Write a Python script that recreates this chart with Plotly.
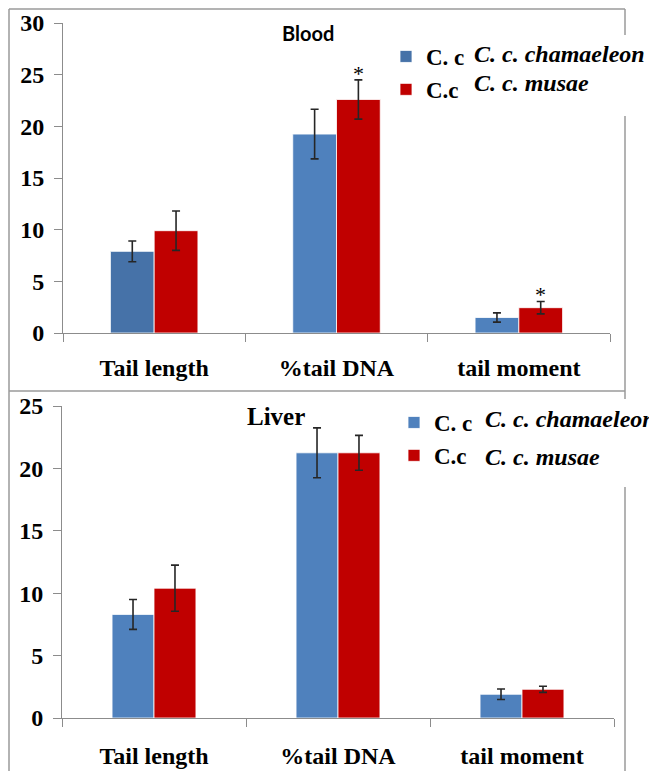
import plotly.graph_objects as go

categories = ["Tail length", "%tail DNA", "tail moment"]

blood_cham = [7.9, 19.25, 1.5]
blood_cham_err = [1.0, 2.4, 0.45]
blood_musae = [9.9, 22.6, 2.45]
blood_musae_err = [1.9, 1.9, 0.6]
blood_sig = [False, True, True]

liver_cham = [8.3, 21.25, 1.9]
liver_cham_err = [1.2, 2.0, 0.42]
liver_musae = [10.4, 21.25, 2.3]
liver_musae_err = [1.85, 1.4, 0.25]

legend_short = ["C. c", "C.c"]
legend_names = ["C. c. chamaeleon", "C. c. musae"]

BLUE = "#4F81BD"
BLUE_DARK = "#4672A8"
RED = "#C00000"
PAGE_OFFSET = 8          # default body margin of the html page
W = 657 - PAGE_OFFSET
H = 771 - PAGE_OFFSET

def px(x):
    return (x - PAGE_OFFSET) / W

def py(y):
    return 1 - (y - PAGE_OFFSET) / H

SERIF = "Liberation Serif"
fig = go.Figure()

def add_pair(cham, cham_err, musae, musae_err, xa, ya, width, legend, blue_colors):
    fig.add_trace(go.Bar(
        x=categories, y=cham, name=legend_short[0], xaxis=xa, yaxis=ya,
        width=width, offset=-width, legend=legend,
        marker=dict(color=blue_colors, line=dict(color="white", width=0.8)),
        error_y=dict(type="data", array=cham_err, color="#262626", thickness=1.6, width=4),
    ))
    fig.add_trace(go.Bar(
        x=categories, y=musae, name=legend_short[1], xaxis=xa, yaxis=ya,
        width=width, offset=0, legend=legend,
        marker=dict(color=RED, line=dict(color="white", width=0.8)),
        error_y=dict(type="data", array=musae_err, color="#262626", thickness=1.6, width=4),
    ))

add_pair(blood_cham, blood_cham_err, blood_musae, blood_musae_err, "x", "y", 0.24, "legend",
         [BLUE_DARK, BLUE, BLUE])
add_pair(liver_cham, liver_cham_err, liver_musae, liver_musae_err, "x2", "y2", 0.228, "legend2",
         [BLUE, BLUE, BLUE])

axis_common = dict(showgrid=False, zeroline=False, showline=True, linecolor="#8c8c8c", linewidth=1,
                   ticks="outside", ticklen=8, tickcolor="#8c8c8c", automargin=False,
                   tickfont=dict(family=SERIF, size=24, color="black", weight="bold"))

fig.update_layout(
    template="none",
    width=W, height=H, margin=dict(l=0, r=0, t=0, b=0, autoexpand=False),
    paper_bgcolor="white", plot_bgcolor="white", barmode="overlay",
    xaxis=dict(domain=[px(63), px(610)], anchor="y", type="category", tickson="boundaries",
               range=[-0.5, 2.5], ticklabelstandoff=13, **axis_common),
    yaxis=dict(domain=[py(333), py(23)], anchor="x", range=[0, 30], tickvals=[0, 5, 10, 15, 20, 25, 30],
               ticklabelstandoff=5, **axis_common),
    xaxis2=dict(domain=[px(62), px(614)], anchor="y2", type="category", tickson="boundaries",
                range=[-0.5, 2.5], ticklabelstandoff=16, **axis_common),
    yaxis2=dict(domain=[py(718), py(406)], anchor="x2", range=[0, 25], tickvals=[0, 5, 10, 15, 20, 25],
                ticklabelstandoff=5, **axis_common),
    legend=dict(x=px(386), y=py(35), xanchor="left", yanchor="top", bgcolor="rgba(0,0,0,0)",
                font=dict(family=SERIF, size=23, color="black", weight="bold")),
    legend2=dict(x=px(394), y=py(401), xanchor="left", yanchor="top", bgcolor="rgba(0,0,0,0)",
                 tracegroupgap=0,
                 font=dict(family=SERIF, size=23, color="black", weight="bold")),
)

# panel titles
fig.add_annotation(text="Blood", x=px(308), y=py(33), xref="paper", yref="paper", showarrow=False,
                   xanchor="center", yanchor="middle",
                   font=dict(family="Lato", size=20, color="black", weight="bold"))
fig.add_annotation(text="Liver", x=px(276), y=py(416), xref="paper", yref="paper", showarrow=False,
                   xanchor="center", yanchor="middle",
                   font=dict(family=SERIF, size=25, color="black", weight="bold"))

# italic legend names
for name, (lx, ly) in zip(legend_names + legend_names, [(472, 54), (472, 83), (483, 419), (483, 457)]):
    fig.add_annotation(text=name, x=px(lx), y=py(ly), xref="paper", yref="paper",
                       xanchor="left", yanchor="middle", showarrow=False,
                       font=dict(family=SERIF, size=24, color="black", weight="bold", style="italic"))

# significance asterisks above musae bars (blood)
for i, sig in enumerate(blood_sig):
    if sig:
        fig.add_annotation(text="*", x=i + 0.12, y=blood_musae[i] + blood_musae_err[i], xref="x", yref="y",
                           yanchor="bottom", showarrow=False, yshift=-8,
                           font=dict(family=SERIF, size=22, color="black"))

# frame lines
FRAME = "#9a9a9a"
segments = [
    (9, 9, 625, 9), (9, 9, 9, 771), (9, 391, 625, 391),
    (625, 9, 625, 35), (625, 116, 625, 399), (625, 487, 625, 771),
]
for x0, y0, x1, y1 in segments:
    fig.add_shape(type="line", xref="paper", yref="paper", x0=px(x0), y0=py(y0), x1=px(x1), y1=py(y1),
                  line=dict(color=FRAME, width=1.5))

fig.write_html("out.html")
